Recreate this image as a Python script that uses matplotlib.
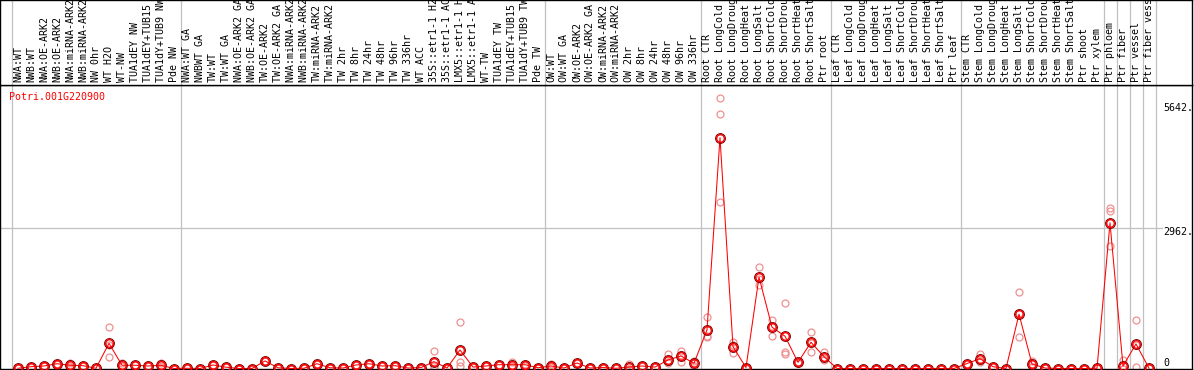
import matplotlib
matplotlib.use("Agg")
import matplotlib.pyplot as plt

# sample labels, one per column, split by group
nw_labels = ["NWA:WT", "NWB:WT", "NWA:OE-ARK2", "NWB:OE-ARK2", "NWA:miRNA-ARK2",
             "NWB:miRNA-ARK2", "NW 0hr", "WT H2O", "WT-NW", "TUA1dEY NW",
             "TUA1dEY+TUB15 NW", "TUA1dY+TUB9 NW", "Pde NW"]
tw_labels = ["NWA:WT GA", "NWBWT GA", "TW:WT", "TW:WT GA", "NWA:OE-ARK2 GA",
             "NWB:OE-ARK2 GA", "TW:OE-ARK2", "TW:OE-ARK2 GA", "NWA:miRNA-ARK2 GA",
             "NWB:miRNA-ARK2 GA", "TW:miRNA-ARK2", "TW:miRNA-ARK2 GA", "TW 2hr",
             "TW 8hr", "TW 24hr", "TW 48hr", "TW 96hr", "TW 336hr", "WT ACC",
             "35S::etr1-1 H2O", "35S::etr1-1 ACC", "LMX5::etr1-1 H2O",
             "LMX5::etr1-1 ACC", "WT-TW", "TUA1dEY TW", "TUA1dEY+TUB15 TW",
             "TUA1dY+TUB9 TW", "Pde TW"]
ow_labels = ["OW:WT", "OW:WT GA", "OW:OE-ARK2", "OW:OE-ARK2 GA", "OW:miRNA-ARK2",
             "OW:miRNA-ARK2 GA", "OW 2hr", "OW 8hr", "OW 24hr", "OW 48hr",
             "OW 96hr", "OW 336hr"]
stress = ["CTR", "LongCold", "LongDrought", "LongHeat", "LongSalt",
          "ShortCold", "ShortDrought", "ShortHeat", "ShortSalt"]
root_labels = ["Root " + s for s in stress] + ["Ptr root"]
leaf_labels = ["Leaf " + s for s in stress] + ["Ptr leaf"]
stem_labels = ["Stem " + s for s in stress] + ["Ptr shoot", "Ptr xylem"]
ptr_labels = ["Ptr phloem", "Ptr fiber", "Ptr vessel", "Ptr fiber vessel"]

labels = nw_labels + tw_labels + ow_labels + root_labels + leaf_labels + stem_labels + ptr_labels

# mean expression per column
means = [5, 38, 53, 101, 68, 60, 5, 531, 68, 68, 53, 68, 0,
         5, 0, 74, 28, 0, 0, 159, 15, 0, 5, 101, 15, 10, 74, 101, 53, 60,
         10, 20, 145, 10, 391, 30, 53, 80, 80, 80, 15,
         53, 10, 116, 10, 20, 5, 30, 53, 30, 180, 264, 110,
         814, 4867, 461, 20, 1928, 871, 681, 130, 553, 249,
         0, 0, 0, 0, 0, 0, 0, 0, 0, 0,
         105, 207, 38, 0, 1146, 95, 10, 0, 0, 0, 5,
         3070, 53, 518, 5]

# replicate values where they stand apart from the mean
replicates = {
    4: [110, 60, 35], 7: [871, 485, 237], 8: [110, 50, 45], 11: [116, 50, 38],
    32: [370, 53, 12], 34: [977, 143, 53], 38: [130, 60, 50], 39: [100, 80, 60],
    41: [90, 40, 30], 47: [90, 0, 0], 50: [300, 130, 110], 51: [370, 285, 137],
    52: [160, 110, 60], 53: [1095, 675, 672], 54: [5712, 5374, 3513],
    55: [567, 495, 321], 57: [2140, 1893, 1751], 58: [1025, 894, 694],
    59: [1385, 355, 303], 60: [140, 130, 120], 61: [776, 541, 341],
    62: [354, 214, 179], 74: [313, 164, 144], 77: [1611, 1167, 660],
    78: [159, 90, 36], 84: [3387, 3316, 2576], 85: [180, 0, 0],
    86: [1026, 503, 25],
}

# columns after which a gray separator is drawn (-1 = before the first)
group_ends = [-1, 12, 40, 52, 62, 72, 83, 84, 85, 86, 87]
ytick_values = [5642, 2962, 0]
ytick_labels = ["5642.", "2962.", "0"]
gene = "Potri.001G220900"

W, H = 1194, 370
px0, dx = 18, 13           # pixel of first column, pixels per column
y_zero, y_top, y_bot = 368.5, 85, 369
scale = (y_zero - 228) / 2962.0   # pixels per unit

xlim = (-px0 / dx, (1192 - px0) / dx)
ylim = (-(y_bot - y_zero) / scale, (y_zero - y_top) / scale)

mono = "DejaVu Sans Mono"
fs = 7.2

fig = plt.figure(figsize=(W / 100, H / 100), dpi=100)
ax = fig.add_axes([0, (H - y_bot) / H, 1192 / W, (y_bot - y_top) / H])
hd = fig.add_axes([0, (H - y_top) / H, 1192 / W, y_top / H])

for a in (ax, hd):
    a.set_xlim(*xlim)
    a.set_xticks([])
    a.set_yticks([])
    for s in a.spines.values():
        s.set_color("black")
        s.set_linewidth(1.0)
ax.set_ylim(*ylim)
hd.set_ylim(y_top, 0)

for g in group_ends:
    ax.axvline(g + 0.5, color="#c0c0c0", lw=0.9, zorder=1)
    hd.axvline(g + 0.5, color="#c0c0c0", lw=0.9, zorder=1)

ax.plot([xlim[0], (1162 - px0) / dx], [2962, 2962], color="#c0c0c0", lw=0.9, zorder=1)

# header labels (long ones run off the top, as in the original)
for i, lab in enumerate(labels):
    t = hd.text(i, 82, lab, rotation=90, ha="center", va="bottom",
                family=mono, fontsize=fs, color="black")
    t.set_clip_on(True)

xs = list(range(len(means)))

# replicates
for i in xs:
    reps = replicates.get(i, [means[i]] * 3)
    ax.plot([i] * len(reps), reps, "o", ms=5.0, mfc="none", mec="#ee9090",
            mew=0.9, zorder=2, clip_on=False)

ax.plot(xs, means, color="red", lw=0.75, zorder=3, clip_on=False)
ax.plot(xs, means, "o", ms=7.0, mfc="none", mec="#7a0000", mew=0.8, zorder=4, clip_on=False)
ax.plot(xs, means, "o", ms=5.5, mfc="none", mec="red", mew=1.0, zorder=5, clip_on=False)

# value labels on the right
offsets = {5642: -7, 2962: -4, 0: 6}
for v, lab in zip(ytick_values, ytick_labels):
    ax.annotate(lab, xy=((1163 - px0) / dx, v), xytext=(0, offsets[v]),
                textcoords="offset pixels", ha="left", va="center",
                family=mono, fontsize=fs, color="black", zorder=6)

ax.text((9 - px0) / dx, ylim[1] - 12 / scale, gene, ha="left", va="center",
        family=mono, fontsize=fs, color="red")

fig.savefig("out.png", dpi=100)
